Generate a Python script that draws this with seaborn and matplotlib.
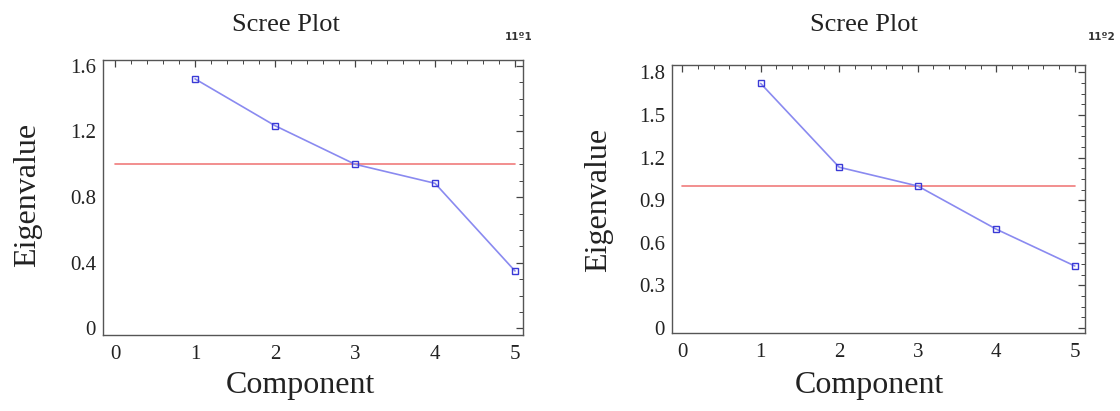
import matplotlib
matplotlib.use("Agg")
import matplotlib.pyplot as plt
from matplotlib.ticker import AutoMinorLocator, FixedLocator
import seaborn as sns
import pandas as pd

components = [1, 2, 3, 4, 5]
eig_1 = [1.52, 1.235, 1.0, 0.884, 0.35]
eig_2 = [1.722, 1.132, 1.0, 0.696, 0.437]
yticks_1 = [0, 0.4, 0.8, 1.2, 1.6]
yticks_2 = [0, 0.3, 0.6, 0.9, 1.2, 1.5, 1.8]
xticks = [0, 1, 2, 3, 4, 5]
threshold = 1.0
titles = ["Scree Plot", "Scree Plot"]
tags = ["11º1", "11º2"]

sns.set_theme(style="white")
plt.rcParams["font.family"] = ["Liberation Serif", "DejaVu Serif"]

W, H = 1120, 411
fig = plt.figure(figsize=(W / 100, H / 100), dpi=100)


def box(l, r, t, b):
    return [l / W, 1 - b / H, (r - l) / W, (b - t) / H]


ax1 = fig.add_axes(box(103, 523, 60, 335))
ax2 = fig.add_axes(box(672, 1085, 65, 333))

panels = [
    dict(ax=ax1, vals=eig_1, yt=yticks_1, ylim=(-0.04, 1.635), xlim=(-0.15, 5.1),
         ylab=(-0.179, 0.51), xlab=(0.47, -0.182), title_xy=(286, 25), tag_xy=(505, 37)),
    dict(ax=ax2, vals=eig_2, yt=yticks_2, ylim=(-0.035, 1.852), xlim=(-0.13, 5.13),
         ylab=(-0.179, 0.498), xlab=(0.479, -0.195), title_xy=(864, 25), tag_xy=(1088, 37)),
]

for i, p in enumerate(panels):
    ax = p["ax"]
    df = pd.DataFrame({"Component": components, "Eigenvalue": p["vals"]})
    ax.plot([0, 5], [threshold, threshold], color="#f07c7c", lw=1.2, zorder=1)
    sns.lineplot(data=df, x="Component", y="Eigenvalue", ax=ax, color="#8a8af0",
                 lw=1.2, marker="s", markersize=5, markerfacecolor="none",
                 markeredgecolor="#3a3ad6", markeredgewidth=1.0, zorder=2)
    ax.set_xlim(*p["xlim"])
    ax.set_ylim(*p["ylim"])
    ax.xaxis.set_major_locator(FixedLocator(xticks))
    ax.yaxis.set_major_locator(FixedLocator(p["yt"]))
    ax.set_yticklabels([f"{v:g}" for v in p["yt"]])
    ax.xaxis.set_minor_locator(AutoMinorLocator(5))
    ax.yaxis.set_minor_locator(AutoMinorLocator(4))
    ax.tick_params(which="both", direction="in", top=True, right=True,
                   labelsize=15, colors="#444444", labelcolor="#222222")
    ax.tick_params(axis="x", which="major", pad=7)
    ax.tick_params(axis="y", which="major", pad=5)
    ax.tick_params(which="major", length=5, width=0.9)
    ax.tick_params(which="minor", length=3, width=0.7)
    for s in ax.spines.values():
        s.set_color("#555555")
        s.set_linewidth(1.0)
    ax.set_xlabel("Component", fontsize=23, color="#222222")
    ax.set_ylabel("Eigenvalue", fontsize=23, color="#222222")
    ax.xaxis.label.set_verticalalignment("center")
    ax.yaxis.label.set_verticalalignment("center")
    ax.yaxis.set_label_coords(*p["ylab"])
    ax.xaxis.set_label_coords(*p["xlab"])
    tx, ty = p["title_xy"]
    fig.text(tx / W, 1 - ty / H, titles[i], fontsize=19, color="#222222",
             ha="center", va="center")
    gx, gy = p["tag_xy"]
    fig.text(gx / W, 1 - gy / H, tags[i], fontsize=7.5, fontweight="bold",
             family="DejaVu Sans", color="#333333", ha="left", va="center")

fig.savefig("out.png", dpi=100)
